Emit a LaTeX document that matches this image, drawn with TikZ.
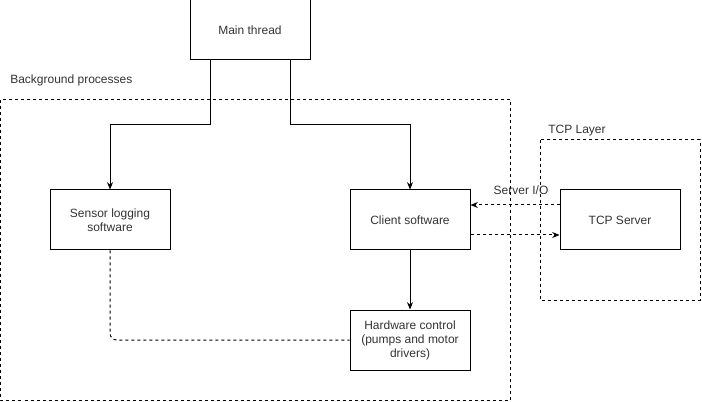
\documentclass[tikz,border=0pt]{standalone}
\usepackage{fontspec}
\setmainfont{Liberation Sans}
\usepackage{tikz}
\usetikzlibrary{arrows.meta,positioning,calc}
\definecolor{strich}{HTML}{000000}
\definecolor{schrift}{HTML}{333333}
\tikzset{
  box/.style={draw=strich,line width=0.75pt,minimum width=90pt,minimum height=45pt,align=center,text=schrift,font=\fontsize{9pt}{10.5pt}\selectfont},
  gruppe/.style={draw=strich,line width=0.75pt,dash pattern=on 2.25pt off 2.25pt},
  lbl/.style={text=schrift,font=\fontsize{9pt}{10.5pt}\selectfont,inner sep=0pt},
  pfeil/.style={-{Stealth[length=5.5pt,width=4.5pt]},strich,line width=0.75pt},
  dpfeil/.style={-{Stealth[length=5.5pt,width=4.5pt]},strich,line width=0.75pt,dash pattern=on 2.25pt off 2.25pt},
  dlinie/.style={strich,line width=0.75pt,dash pattern=on 2.25pt off 2.25pt,rounded corners=5pt},
}
\begin{document}
\begin{tikzpicture}[x=0.75pt,y=-0.75pt]
  \useasboundingbox (0,0) rectangle (702,402);
  \draw[gruppe] (0.5,100) rectangle (510,400);
  \draw[gruppe] (540,140) rectangle (700,300);
  \node[lbl,anchor=west] (bglbl) at (10,80) {Background processes};
  \node[lbl,anchor=west] (tcplbl) at (548,131) {TCP Layer};
  \node[box] (main) at (250,30) {Main thread};
  \node[box] (sensor) at (110,220) {Sensor logging\\software};
  \node[box] (client) at (410,220) {Client software};
  \node[box] (hw) at (410,340) {Hardware control\\(pumps and motor\\drivers)};
  \node[box] (tcp) at (620,220) {TCP Server};
  \coordinate (ml) at ([xshift=-30pt]main.south);
  \coordinate (mr) at ([xshift=30pt]main.south);
  \coordinate (split) at (0,125);
  \draw[pfeil] (ml) -- (ml |- split) -| (sensor);
  \draw[pfeil] (mr) -- (mr |- split) -| (client);
  \draw[pfeil] (client) -- (hw);
  \draw[dlinie] (sensor) |- (hw);
  \draw[dpfeil] ([yshift=11.25pt]tcp.west) -- ([yshift=11.25pt]client.east);
  \draw[dpfeil] ([yshift=-11.25pt]client.east) -- ([yshift=-11.25pt]tcp.west);
  \node[lbl] (io) at (521,190) {Server I/O};
\end{tikzpicture}
\end{document}
